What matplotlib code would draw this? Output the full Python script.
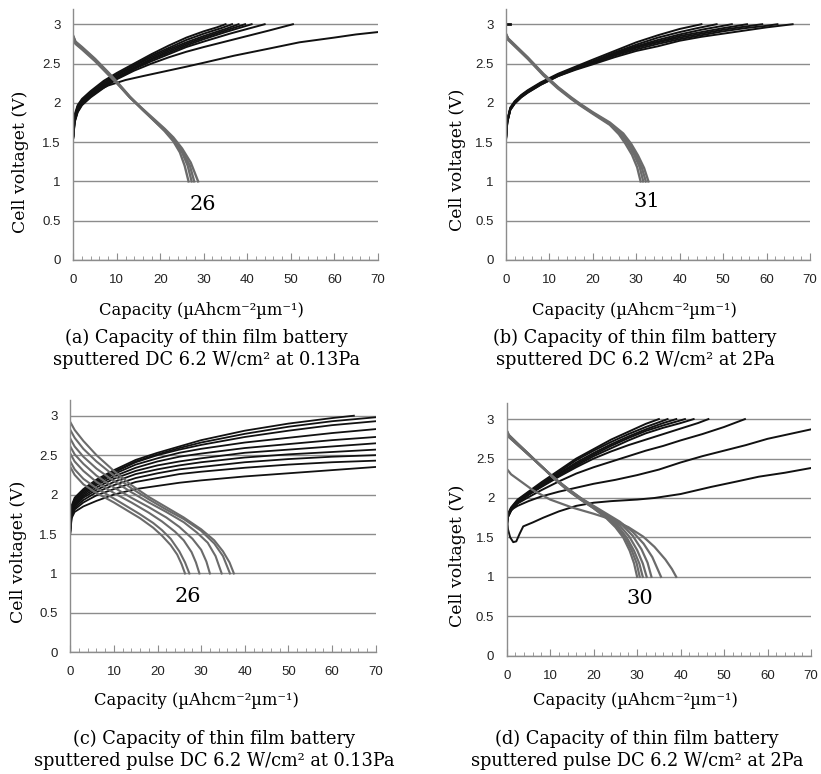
import matplotlib.pyplot as plt
from matplotlib.ticker import MultipleLocator

plt.rcParams['font.family'] = 'DejaVu Serif'

CHARGE = '#111111'
DISCHARGE = '#6b6b6b'
GRID = '#8c8c8c'

x_ticks = [0, 10, 20, 30, 40, 50, 60, 70]
y_ticks = [0, 0.5, 1, 1.5, 2, 2.5, 3]
y_tick_labels = ['0', '0.5', '1', '1.5', '2', '2.5', '3']
x_label = 'Capacity (µAhcm⁻²µm⁻¹)'
y_label = 'Cell voltaget (V)'

captions = [
    '(a) Capacity of thin film battery\nsputtered DC 6.2 W/cm² at 0.13Pa',
    '(b) Capacity of thin film battery\nsputtered DC 6.2 W/cm² at 2Pa',
    '(c) Capacity of thin film battery\nsputtered pulse DC 6.2 W/cm² at 0.13Pa',
    '(d) Capacity of thin film battery\nsputtered pulse DC 6.2 W/cm² at 2Pa',
]
cycle_labels = ['26', '31', '26', '30']
cycle_label_pos = [(29.7, 0.70), (32.5, 0.74), (27.0, 0.71), (30.5, 0.73)]

# ---- (a) DC, 0.13 Pa ----
a_charge = [
    ([0, 0.3, 1, 2, 4, 7, 10, 14, 18, 22, 26, 30, 33, 35],
     [1.62, 1.85, 1.97, 2.05, 2.15, 2.28, 2.38, 2.5, 2.62, 2.73, 2.83, 2.91, 2.96, 3.0]),
    ([0, 0.3, 1, 2, 4, 7, 10, 14, 18, 22, 26, 30, 34, 36.5],
     [1.6, 1.82, 1.95, 2.03, 2.13, 2.26, 2.36, 2.48, 2.6, 2.7, 2.8, 2.88, 2.95, 3.0]),
    ([0, 0.3, 1, 2, 4, 7, 10, 14, 18, 22, 26, 30, 35, 38],
     [1.58, 1.8, 1.93, 2.01, 2.11, 2.24, 2.35, 2.47, 2.58, 2.68, 2.77, 2.85, 2.94, 3.0]),
    ([0, 0.3, 1, 2, 4, 7, 10, 14, 18, 22, 26, 30, 35, 39.5],
     [1.58, 1.78, 1.92, 2.0, 2.1, 2.22, 2.33, 2.45, 2.56, 2.66, 2.75, 2.83, 2.92, 3.0]),
    ([0, 0.3, 1, 2, 4, 7, 10, 14, 18, 22, 26, 30, 35, 41],
     [1.57, 1.77, 1.9, 1.99, 2.09, 2.21, 2.32, 2.44, 2.55, 2.64, 2.73, 2.81, 2.9, 3.0]),
    ([0, 0.3, 1, 2, 4, 7, 10, 14, 18, 22, 26, 30, 36, 40, 44],
     [1.56, 1.76, 1.89, 1.98, 2.08, 2.2, 2.31, 2.43, 2.53, 2.62, 2.71, 2.78, 2.88, 2.94, 3.0]),
    ([0, 0.3, 1, 2, 4, 7, 10, 14, 18, 22, 26, 30, 35, 40, 45, 50.5],
     [1.55, 1.75, 1.88, 1.97, 2.07, 2.19, 2.3, 2.41, 2.5, 2.58, 2.65, 2.71, 2.78, 2.85, 2.92, 3.0]),
    ([0, 0.3, 1, 2, 3, 5, 8, 12, 16, 21, 26, 30, 37, 45, 52, 60, 65, 70],
     [1.6, 1.8, 1.95, 2.03, 2.08, 2.14, 2.22, 2.29, 2.34, 2.4, 2.46, 2.51, 2.6, 2.69, 2.77, 2.83, 2.87, 2.9]),
]
a_discharge = [
    ([0, 0.5, 2, 5, 8, 10, 13, 16, 19, 21, 23, 24.5, 25.6, 26.5],
     [2.85, 2.78, 2.71, 2.56, 2.39, 2.27, 2.08, 1.91, 1.75, 1.64, 1.51, 1.37, 1.2, 1.0]),
    ([0, 0.5, 2, 5, 8, 10, 13, 16, 19, 21, 23, 25, 26.3, 27.2],
     [2.84, 2.77, 2.7, 2.55, 2.38, 2.26, 2.07, 1.91, 1.75, 1.65, 1.53, 1.37, 1.2, 1.0]),
    ([0, 0.5, 2, 5, 8, 10, 13, 16, 19, 21, 23, 25, 26.8, 27.8],
     [2.83, 2.76, 2.69, 2.54, 2.37, 2.26, 2.07, 1.91, 1.76, 1.66, 1.54, 1.39, 1.2, 1.0]),
    ([0, 0.5, 2, 5, 8, 10, 13, 16, 19, 21, 23, 25, 27, 28.7],
     [2.82, 2.75, 2.68, 2.53, 2.36, 2.25, 2.07, 1.92, 1.77, 1.67, 1.56, 1.42, 1.24, 1.0]),
]

# ---- (b) DC, 2 Pa ----
b_charge = [
    ([0, 0.3, 1, 2, 3.5, 5, 8, 12, 16, 20, 25, 30, 35, 40, 45],
     [1.55, 1.78, 1.94, 2.02, 2.1, 2.16, 2.26, 2.37, 2.46, 2.55, 2.66, 2.77, 2.86, 2.94, 3.0]),
    ([0, 0.3, 1, 2, 3.5, 5, 8, 12, 16, 20, 25, 30, 35, 40, 44, 48.5],
     [1.55, 1.77, 1.93, 2.01, 2.09, 2.15, 2.25, 2.36, 2.45, 2.53, 2.64, 2.74, 2.83, 2.9, 2.95, 3.0]),
    ([0, 0.3, 1, 2, 3.5, 5, 8, 12, 16, 20, 25, 30, 35, 40, 45, 52],
     [1.54, 1.77, 1.93, 2.01, 2.09, 2.15, 2.25, 2.36, 2.44, 2.52, 2.63, 2.72, 2.8, 2.87, 2.93, 3.0]),
    ([0, 0.3, 1, 2, 3.5, 5, 8, 12, 16, 20, 25, 30, 35, 40, 45, 50, 55.5],
     [1.54, 1.76, 1.92, 2.0, 2.08, 2.14, 2.24, 2.35, 2.44, 2.52, 2.62, 2.71, 2.78, 2.85, 2.9, 2.95, 3.0]),
    ([0, 0.3, 1, 2, 3.5, 5, 8, 12, 16, 20, 25, 30, 35, 40, 45, 50, 55, 59],
     [1.53, 1.76, 1.92, 2.0, 2.08, 2.14, 2.24, 2.35, 2.43, 2.51, 2.61, 2.7, 2.77, 2.83, 2.88, 2.93, 2.97, 3.0]),
    ([0, 0.3, 1, 2, 3.5, 5, 8, 12, 16, 20, 25, 30, 35, 40, 45, 50, 55, 60, 62.5],
     [1.53, 1.75, 1.91, 1.99, 2.07, 2.13, 2.23, 2.34, 2.43, 2.5, 2.6, 2.68, 2.75, 2.81, 2.86, 2.91, 2.95, 2.98, 3.0]),
    ([0, 0.3, 1, 2, 3.5, 5, 8, 12, 16, 20, 25, 30, 35, 40, 45, 50, 55, 60, 66],
     [1.52, 1.75, 1.91, 1.99, 2.07, 2.13, 2.23, 2.34, 2.42, 2.49, 2.58, 2.66, 2.72, 2.79, 2.84, 2.88, 2.92, 2.96, 3.0]),
]
b_mark = ([0, 0.9], [3.0, 3.0])
b_discharge = [
    ([0, 0.5, 2, 5, 8.6, 12, 15, 17, 20, 23.9, 26, 27.5, 29, 30.2, 31],
     [2.86, 2.8, 2.72, 2.56, 2.35, 2.18, 2.05, 1.97, 1.86, 1.72, 1.6, 1.48, 1.34, 1.18, 1.0]),
    ([0, 0.5, 2, 5, 8.6, 12, 15, 17, 20, 23.9, 26.3, 28, 29.5, 30.8, 31.6],
     [2.87, 2.81, 2.73, 2.57, 2.36, 2.19, 2.06, 1.98, 1.87, 1.73, 1.61, 1.48, 1.34, 1.18, 1.0]),
    ([0, 0.5, 2, 5, 8.6, 12, 15, 17, 20, 23.9, 26.6, 28.4, 30, 31.3, 32.2],
     [2.87, 2.81, 2.73, 2.57, 2.36, 2.19, 2.06, 1.98, 1.87, 1.74, 1.61, 1.48, 1.33, 1.17, 1.0]),
    ([0, 0.5, 2, 5, 8.6, 12, 15, 17, 20, 23.9, 27, 28.8, 30.4, 31.8, 32.8],
     [2.88, 2.82, 2.74, 2.58, 2.37, 2.2, 2.07, 1.99, 1.88, 1.75, 1.61, 1.48, 1.33, 1.17, 1.0]),
]

# ---- (c) pulse DC, 0.13 Pa ----
c_charge_x = [0, 0.3, 1, 3, 6, 10, 15, 20, 25, 30, 40, 50, 60, 70]
c_charge_y = [
    [1.63, 1.84, 1.94, 2.05, 2.17, 2.29, 2.42, 2.51, 2.59, 2.66, 2.77, 2.86, 2.93, 2.98],
    [1.62, 1.83, 1.93, 2.04, 2.16, 2.28, 2.41, 2.5, 2.57, 2.63, 2.73, 2.81, 2.88, 2.93],
    [1.6, 1.81, 1.91, 2.02, 2.14, 2.26, 2.38, 2.46, 2.53, 2.58, 2.66, 2.72, 2.78, 2.83],
    [1.58, 1.79, 1.89, 2.0, 2.12, 2.23, 2.34, 2.42, 2.48, 2.52, 2.59, 2.64, 2.69, 2.73],
    [1.57, 1.77, 1.87, 1.98, 2.09, 2.2, 2.3, 2.37, 2.42, 2.46, 2.53, 2.57, 2.61, 2.65],
    [1.55, 1.76, 1.85, 1.96, 2.06, 2.16, 2.26, 2.32, 2.37, 2.41, 2.47, 2.51, 2.54, 2.57],
    [1.54, 1.74, 1.83, 1.93, 2.03, 2.12, 2.21, 2.27, 2.32, 2.35, 2.41, 2.45, 2.48, 2.5],
    [1.52, 1.72, 1.81, 1.9, 1.99, 2.07, 2.16, 2.21, 2.26, 2.29, 2.34, 2.38, 2.41, 2.43],
    [1.5, 1.7, 1.78, 1.85, 1.92, 2.0, 2.07, 2.11, 2.15, 2.18, 2.23, 2.27, 2.31, 2.35],
]
c_charge_top = ([0, 0.3, 1, 3, 6, 10, 15, 20, 25, 30, 40, 50, 60, 65],
                [1.65, 1.86, 1.96, 2.07, 2.19, 2.31, 2.44, 2.53, 2.61, 2.69, 2.81, 2.9, 2.97, 3.0])
c_discharge = [
    ([0, 1, 3, 6, 10, 13, 16, 19, 21, 23, 24.5, 25.5, 26.3],
     [2.35, 2.25, 2.13, 2.02, 1.9, 1.8, 1.7, 1.58, 1.48, 1.36, 1.24, 1.12, 1.0]),
    ([0, 1, 3, 6, 10, 13, 16, 19, 21, 23, 25, 26.3, 27.3],
     [2.42, 2.32, 2.2, 2.08, 1.95, 1.85, 1.75, 1.64, 1.55, 1.44, 1.28, 1.14, 1.0]),
    ([0, 1, 3, 6, 10, 14, 18, 21, 24, 26, 27.8, 28.8, 29.6],
     [2.52, 2.42, 2.3, 2.16, 2.02, 1.9, 1.77, 1.66, 1.53, 1.42, 1.27, 1.14, 1.0]),
    ([0, 1, 3, 6, 10, 14, 18, 22, 25, 28, 30, 31.2, 32],
     [2.61, 2.51, 2.39, 2.24, 2.09, 1.96, 1.84, 1.71, 1.59, 1.44, 1.3, 1.15, 1.0]),
    ([0, 1, 3, 6, 10, 14, 18, 22, 26, 29, 31.5, 33.3, 34.7],
     [2.71, 2.61, 2.48, 2.33, 2.17, 2.03, 1.9, 1.78, 1.65, 1.52, 1.39, 1.22, 1.0]),
    ([0, 1, 3, 6, 10, 14, 18, 22, 26, 30, 33, 35, 36.6],
     [2.82, 2.72, 2.58, 2.42, 2.24, 2.08, 1.94, 1.81, 1.69, 1.54, 1.38, 1.22, 1.0]),
    ([0, 1, 3, 6, 10, 14, 18, 22, 26, 30, 33, 35, 36.5, 37.5],
     [2.92, 2.82, 2.68, 2.5, 2.3, 2.12, 1.97, 1.84, 1.71, 1.56, 1.42, 1.28, 1.14, 1.0]),
]

# ---- (d) pulse DC, 2 Pa ----
d_charge = [
    ([0, 0.3, 1, 2.5, 5, 8, 12, 16, 20, 24, 28, 32, 35],
     [1.68, 1.8, 1.88, 1.98, 2.08, 2.2, 2.35, 2.5, 2.62, 2.74, 2.84, 2.94, 3.0]),
    ([0, 0.3, 1, 2.5, 5, 8, 12, 16, 20, 24, 28, 32, 35, 37],
     [1.67, 1.79, 1.87, 1.97, 2.07, 2.18, 2.33, 2.48, 2.6, 2.71, 2.81, 2.9, 2.96, 3.0]),
    ([0, 0.3, 1, 2.5, 5, 8, 12, 16, 20, 24, 28, 32, 36, 39],
     [1.66, 1.78, 1.86, 1.96, 2.06, 2.17, 2.31, 2.45, 2.57, 2.68, 2.78, 2.87, 2.95, 3.0]),
    ([0, 0.3, 1, 2.5, 5, 8, 12, 16, 20, 24, 28, 32, 36, 41],
     [1.65, 1.77, 1.85, 1.95, 2.05, 2.16, 2.3, 2.43, 2.55, 2.66, 2.76, 2.85, 2.92, 3.0]),
    ([0, 0.3, 1, 2.5, 5, 8, 12, 16, 20, 24, 28, 32, 36, 40, 43],
     [1.64, 1.76, 1.84, 1.94, 2.04, 2.15, 2.28, 2.41, 2.53, 2.63, 2.73, 2.82, 2.89, 2.95, 3.0]),
    ([0, 0.3, 1, 2.5, 5, 8, 12, 16, 20, 24, 28, 32, 36, 40, 44, 46.4],
     [1.64, 1.76, 1.84, 1.94, 2.04, 2.14, 2.27, 2.39, 2.5, 2.59, 2.67, 2.74, 2.81, 2.88, 2.95, 3.0]),
    ([0, 0.3, 1, 2.5, 5, 8, 12, 16, 20, 24, 28, 32, 36, 40, 45, 50, 54.8],
     [1.7, 1.78, 1.85, 1.93, 2.01, 2.1, 2.21, 2.31, 2.39, 2.46, 2.53, 2.6, 2.66, 2.73, 2.81, 2.9, 3.0]),
    ([0, 0.3, 1, 2.5, 5, 8, 12, 16, 20, 25, 30, 35, 40, 45, 50, 55, 60, 65, 70],
     [1.72, 1.8, 1.85, 1.9, 1.96, 2.02, 2.08, 2.13, 2.18, 2.23, 2.29, 2.36, 2.45, 2.53, 2.6, 2.67, 2.75, 2.81, 2.87]),
    ([0, 0.3, 0.8, 1.5, 2.2, 3, 3.8, 6, 8.4, 12, 16, 20, 24, 30, 34, 40, 47, 53, 58, 64, 70],
     [1.78, 1.6, 1.5, 1.44, 1.45, 1.55, 1.64, 1.69, 1.75, 1.83, 1.9, 1.94, 1.96, 1.98, 2.0, 2.05, 2.14, 2.21, 2.27, 2.32, 2.38]),
]
d_start = ([0, 0], [0.7, 1.8])
d_discharge = [
    ([0, 0.5, 2, 5, 8, 11, 14, 17, 20, 23, 25, 26.8, 28.3, 29.3, 30],
     [2.86, 2.8, 2.72, 2.56, 2.4, 2.24, 2.1, 1.98, 1.87, 1.74, 1.63, 1.5, 1.33, 1.17, 1.0]),
    ([0, 0.5, 2, 5, 8, 11, 14, 17, 20, 23, 25.3, 27.2, 28.8, 29.9, 30.6],
     [2.85, 2.79, 2.71, 2.56, 2.4, 2.24, 2.1, 1.98, 1.87, 1.75, 1.63, 1.5, 1.33, 1.17, 1.0]),
    ([0, 0.5, 2, 5, 8, 11, 14, 17, 20, 23, 25.6, 27.6, 29.3, 30.5, 31.3],
     [2.85, 2.79, 2.71, 2.56, 2.4, 2.25, 2.11, 1.99, 1.88, 1.76, 1.64, 1.5, 1.33, 1.17, 1.0]),
    ([0, 0.5, 2, 5, 8, 11, 14, 17, 20, 23, 26, 28.2, 30, 31.3, 32.2],
     [2.84, 2.78, 2.7, 2.55, 2.4, 2.25, 2.11, 1.99, 1.88, 1.77, 1.65, 1.51, 1.34, 1.17, 1.0]),
    ([0, 0.5, 2, 5, 8, 11, 14, 17, 20, 23, 26.5, 29, 31, 32.4, 33.3],
     [2.84, 2.78, 2.7, 2.55, 2.4, 2.25, 2.12, 2.0, 1.89, 1.78, 1.66, 1.52, 1.35, 1.18, 1.0]),
    ([0, 0.5, 2, 5, 8, 11, 14, 17, 20, 23, 26, 29, 31.5, 33.5, 35.5],
     [2.82, 2.77, 2.7, 2.55, 2.4, 2.25, 2.12, 2.0, 1.9, 1.8, 1.7, 1.57, 1.42, 1.25, 1.0]),
    ([0, 1, 3, 6, 10, 15, 20, 24, 28, 31.4, 34, 36.5, 38, 39],
     [2.37, 2.3, 2.22, 2.1, 1.98, 1.88, 1.8, 1.73, 1.63, 1.51, 1.38, 1.22, 1.1, 1.0]),
]

# axes boxes in figure fractions (pixel positions measured on the 821x774 original)
boxes = [
    [0.0893, 0.6641, 0.3708, 0.3249],
    [0.6163, 0.6641, 0.3703, 0.3249],
    [0.0856, 0.1572, 0.3720, 0.3261],
    [0.6172, 0.1528, 0.3706, 0.3261],
]
xlabel_pos = [(0.42, -0.199), (0.421, -0.199), (0.412, -0.189), (0.4216, -0.1755)]
ylabel_pos = [(-0.175, 0.39), (-0.16, 0.40), (-0.17, 0.40), (-0.162, 0.395)]
caption_pos = [(206 / 821, 1 - 349 / 774), (635 / 821, 1 - 349 / 774),
               (214 / 821, 1 - 750 / 774), (637 / 821, 1 - 750 / 774)]


def style_axes(ax, i):
    ax.set_xlim(0, 70)
    ax.set_ylim(0, 3.2)
    ax.set_xticks(x_ticks)
    ax.xaxis.set_minor_locator(MultipleLocator(2))
    ax.set_yticks(y_ticks, labels=y_tick_labels)
    ax.grid(axis='y', color=GRID, lw=1)
    ax.set_axisbelow(True)
    for side in ['top', 'right']:
        ax.spines[side].set_visible(False)
    for side in ['left', 'bottom']:
        ax.spines[side].set_color(GRID)
        ax.spines[side].set_linewidth(1)
    ax.tick_params(axis='x', which='major', direction='in', length=5, color=GRID,
                   labelsize=9.5, pad=10)
    ax.tick_params(axis='x', which='minor', direction='in', length=3, color=GRID)
    ax.tick_params(axis='y', length=0, pad=9, labelsize=9.5)
    for lab in ax.get_xticklabels() + ax.get_yticklabels():
        lab.set_fontfamily('Liberation Sans')
        lab.set_color('#222222')
    ax.set_xlabel(x_label, fontsize=11.8, va='center')
    ax.xaxis.set_label_coords(*xlabel_pos[i])
    ax.set_ylabel(y_label, fontsize=12.4, va='center')
    ax.yaxis.set_label_coords(*ylabel_pos[i])
    ax.text(*cycle_label_pos[i], cycle_labels[i], fontsize=15, ha='center', va='center')


fig = plt.figure(figsize=(8.21, 7.74), dpi=100)
axes = [fig.add_axes(b) for b in boxes]

# (a)
for xs, ys in a_charge:
    axes[0].plot(xs, ys, color=CHARGE, lw=1.4)
for xs, ys in a_discharge:
    axes[0].plot(xs, ys, color=DISCHARGE, lw=1.7)

# (b)
for xs, ys in b_charge:
    axes[1].plot(xs, ys, color=CHARGE, lw=1.4)
axes[1].plot(*b_mark, color=CHARGE, lw=2)
for xs, ys in b_discharge:
    axes[1].plot(xs, ys, color=DISCHARGE, lw=1.7)

# (c)
axes[2].plot(*c_charge_top, color=CHARGE, lw=1.3)
for ys in c_charge_y:
    axes[2].plot(c_charge_x, ys, color=CHARGE, lw=1.3)
for xs, ys in c_discharge:
    axes[2].plot(xs, ys, color=DISCHARGE, lw=1.5)

# (d)
axes[3].plot(*d_start, color=CHARGE, lw=1.3)
for xs, ys in d_charge:
    axes[3].plot(xs, ys, color=CHARGE, lw=1.4)
for xs, ys in d_discharge:
    axes[3].plot(xs, ys, color=DISCHARGE, lw=1.6)

for i, ax in enumerate(axes):
    style_axes(ax, i)
    fig.text(*caption_pos[i], captions[i], fontsize=12.8, ha='center', va='center',
             linespacing=1.3)

fig.savefig('out.png', dpi=100)
